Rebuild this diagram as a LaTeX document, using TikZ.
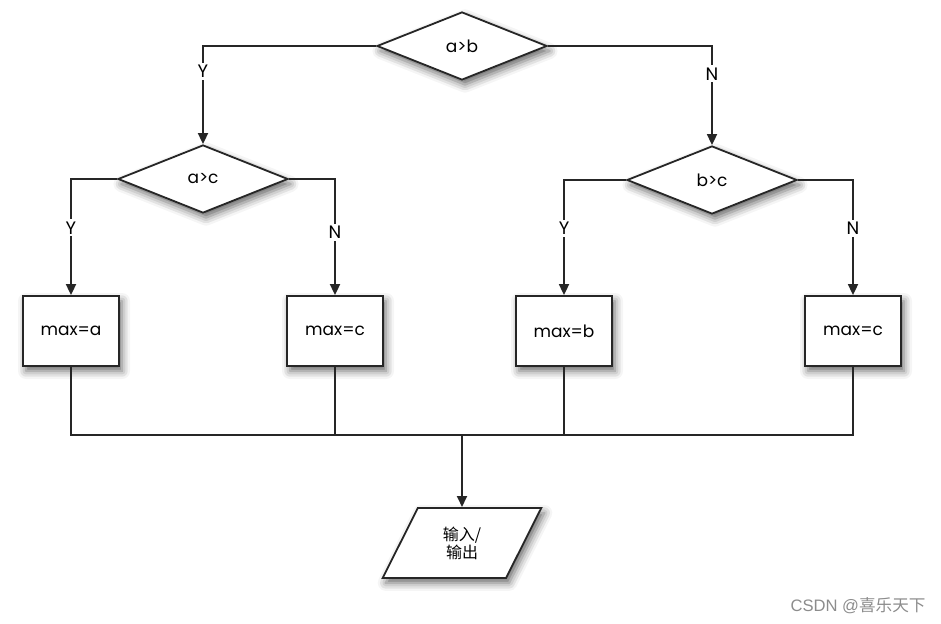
\documentclass[tikz,border=0pt]{standalone}
\usepackage{fontspec}
\setmainfont{Poppins}
\newfontfamily\cjk{Noto Sans CJK SC}
\newfontfamily\wmfont{Liberation Sans}
\usetikzlibrary{shapes.geometric,arrows.meta,positioning,calc,shadows.blur}

\begin{document}
\begin{tikzpicture}[x=0.5pt, y=-0.5pt, ->, >={Triangle[length=5.5pt,width=5pt]},
    line width=0.9pt, draw=black!85, node distance=36pt,
    shade/.style={blur shadow={shadow xshift=1.5pt, shadow yshift=-2.5pt, shadow blur radius=4pt, shadow opacity=60}},
    decision/.style={diamond, draw, fill=white, shade, minimum width=85pt, minimum height=34pt, inner sep=0pt, font=\fontsize{8.5}{10}\selectfont},
    process/.style={rectangle, draw, fill=white, shade, minimum width=48pt, minimum height=35pt, inner sep=0pt, font=\fontsize{8.5}{10}\selectfont},
    io/.style={trapezium, trapezium left angle=65, trapezium right angle=115, trapezium stretches=true, draw, fill=white, shade, minimum width=79.5pt, minimum height=35pt, inner sep=0pt, align=center, font=\cjk\fontsize{8}{10}\selectfont},
    lbl/.style={fill=white, inner sep=1pt, font=\fontsize{9}{11}\selectfont}]
    \useasboundingbox (0,0) rectangle (941,624);
    % decisions
    \node[decision] (ab) at (462,46) {a>b};
    \node[decision] (ac) at (203,179) {a>c};
    \node[decision] (bc) at (712,180) {b>c};
    % results
    \node[process] (maxa) at (71,331) {max=a};
    \node[process] (maxc) at (335,331) {max=c};
    \node[process] (maxb) at (564,331) {max=b};
    \node[process] (maxcc) at (853,331) {max=c};
    \coordinate (join) at (462,435);
    \node[io, below=of join] (out) {输入/\\[-1pt]输出};
    % branches
    \draw (ab.west) -| node[lbl, pos=0.63] {Y} (ac.north);
    \draw (ab.east) -| node[lbl, pos=0.64] {N} (bc.north);
    \draw (ac.west) -| node[lbl, pos=0.71] {Y} (maxa.north);
    \draw (ac.east) -| node[lbl, pos=0.73] {N} (maxc.north);
    \draw (bc.west) -| node[lbl, pos=0.71] {Y} (maxb.north);
    \draw (bc.east) -| node[lbl, pos=0.71] {N} (maxcc.north);
    % merge
    \draw[-] (maxa.south) |- (join) -| (maxcc.south);
    \draw[-] (maxc.south) -- (maxc.south |- join);
    \draw[-] (maxb.south) -- (maxb.south |- join);
    \draw (join) -- (out.north);
    \node[font=\wmfont\fontsize{8.3}{10}\selectfont, text=black!45] (mark) at (858,606) {CSDN @{\cjk 喜乐天下}};
\end{tikzpicture}
\end{document}
